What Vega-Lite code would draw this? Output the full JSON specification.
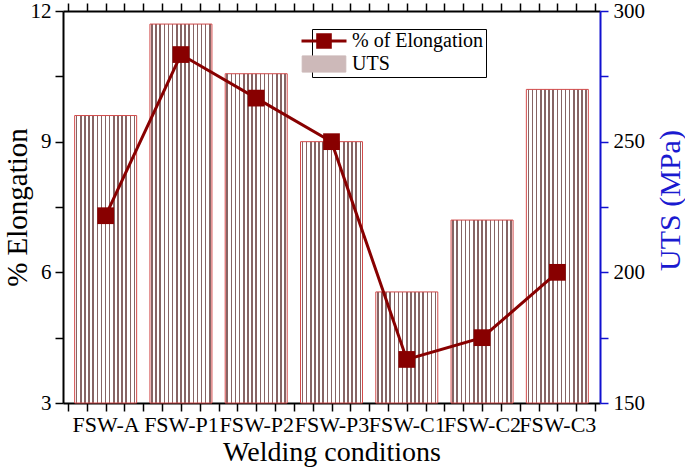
{
  "$schema": "https://vega.github.io/schema/vega-lite/v6.json",
  "width": 537,
  "height": 392,
  "autosize": "none",
  "padding": {"left": 63, "top": 11, "right": 85, "bottom": 70},
  "background": "white",
  "data": {
    "values": [
      {"cond": "FSW-A", "elong": 7.3, "uts": 260},
      {"cond": "FSW-P1", "elong": 11.0, "uts": 295},
      {"cond": "FSW-P2", "elong": 10.0, "uts": 276},
      {"cond": "FSW-P3", "elong": 9.0, "uts": 250},
      {"cond": "FSW-C1", "elong": 4.0, "uts": 192.5},
      {"cond": "FSW-C2", "elong": 4.5, "uts": 220},
      {"cond": "FSW-C3", "elong": 6.0, "uts": 270}
    ]
  },
  "transform": [{"window": [{"op": "row_number", "as": "idx"}]}],
  "layer": [
    {
      "mark": {
        "type": "bar",
        "width": 62,
        "stroke": "#d24a4a",
        "strokeWidth": 1,
        "fill": {
          "gradient": "linear", "x1": 0, "y1": 0, "x2": 1, "y2": 0,
          "stops": [
            {"offset": 0, "color": "#ffffff"},
            {"offset": 0.02, "color": "#ffffff"}, {"offset": 0.02, "color": "#866464"}, {"offset": 0.045, "color": "#866464"}, {"offset": 0.045, "color": "#ffffff"},
            {"offset": 0.0867, "color": "#ffffff"}, {"offset": 0.0867, "color": "#866464"}, {"offset": 0.1117, "color": "#866464"}, {"offset": 0.1117, "color": "#ffffff"},
            {"offset": 0.1533, "color": "#ffffff"}, {"offset": 0.1533, "color": "#866464"}, {"offset": 0.1783, "color": "#866464"}, {"offset": 0.1783, "color": "#ffffff"},
            {"offset": 0.22, "color": "#ffffff"}, {"offset": 0.22, "color": "#866464"}, {"offset": 0.245, "color": "#866464"}, {"offset": 0.245, "color": "#ffffff"},
            {"offset": 0.2867, "color": "#ffffff"}, {"offset": 0.2867, "color": "#866464"}, {"offset": 0.3117, "color": "#866464"}, {"offset": 0.3117, "color": "#ffffff"},
            {"offset": 0.3533, "color": "#ffffff"}, {"offset": 0.3533, "color": "#866464"}, {"offset": 0.3783, "color": "#866464"}, {"offset": 0.3783, "color": "#ffffff"},
            {"offset": 0.42, "color": "#ffffff"}, {"offset": 0.42, "color": "#866464"}, {"offset": 0.445, "color": "#866464"}, {"offset": 0.445, "color": "#ffffff"},
            {"offset": 0.4867, "color": "#ffffff"}, {"offset": 0.4867, "color": "#866464"}, {"offset": 0.5117, "color": "#866464"}, {"offset": 0.5117, "color": "#ffffff"},
            {"offset": 0.5533, "color": "#ffffff"}, {"offset": 0.5533, "color": "#866464"}, {"offset": 0.5783, "color": "#866464"}, {"offset": 0.5783, "color": "#ffffff"},
            {"offset": 0.62, "color": "#ffffff"}, {"offset": 0.62, "color": "#866464"}, {"offset": 0.645, "color": "#866464"}, {"offset": 0.645, "color": "#ffffff"},
            {"offset": 0.6867, "color": "#ffffff"}, {"offset": 0.6867, "color": "#866464"}, {"offset": 0.7117, "color": "#866464"}, {"offset": 0.7117, "color": "#ffffff"},
            {"offset": 0.7533, "color": "#ffffff"}, {"offset": 0.7533, "color": "#866464"}, {"offset": 0.7783, "color": "#866464"}, {"offset": 0.7783, "color": "#ffffff"},
            {"offset": 0.82, "color": "#ffffff"}, {"offset": 0.82, "color": "#866464"}, {"offset": 0.845, "color": "#866464"}, {"offset": 0.845, "color": "#ffffff"},
            {"offset": 0.8867, "color": "#ffffff"}, {"offset": 0.8867, "color": "#866464"}, {"offset": 0.9117, "color": "#866464"}, {"offset": 0.9117, "color": "#ffffff"},
            {"offset": 0.9533, "color": "#ffffff"}, {"offset": 0.9533, "color": "#866464"}, {"offset": 0.9783, "color": "#866464"}, {"offset": 0.9783, "color": "#ffffff"},
            {"offset": 1, "color": "#ffffff"}
          ]
        }
      },
      "encoding": {
        "x": {
          "field": "idx", "type": "quantitative",
          "scale": {"domain": [0.5, 7.5], "nice": false, "zero": false},
          "axis": {
            "orient": "top",
            "values": [0.5,0.75,1,1.25,1.5,1.75,2,2.25,2.5,2.75,3,3.25,3.5,3.75,4,4.25,4.5,4.75,5,5.25,5.5,5.75,6,6.25,6.5,6.75,7,7.25,7.5],
            "labels": false,
            "title": null,
            "tickSize": 8,
            "encode": {"ticks": {"update": {"y2": {"signal": "datum.value % 0.5 === 0 ? 8 : 5"}}}}
          }
        },
        "y": {
          "field": "uts", "type": "quantitative",
          "scale": {"domain": [150, 300], "nice": false, "zero": false},
          "axis": {
            "orient": "right",
            "values": [150, 175, 200, 225, 250, 275, 300],
            "labelExpr": "datum.value % 50 === 0 ? datum.label : ''",
            "tickSize": 8,
            "encode": {"ticks": {"update": {"x2": {"signal": "datum.value % 50 === 0 ? 8 : 5"}}}},
            "domainColor": "#1010d0",
            "tickColor": "#1010d0",
            "labelPadding": 5,
            "title": "UTS (MPa)",
            "titleColor": "#1a1ad0",
            "titleFontSize": 30,
            "titleAngle": 270,
            "titleX": 79,
            "titleY": 189,
            "titleAlign": "center",
            "titleBaseline": "alphabetic"
          }
        },
        "y2": {"datum": 150}
      }
    },
    {
      "mark": {
        "type": "line",
        "strokeWidth": 3,
        "point": {"shape": "square", "size": 280, "filled": true, "opacity": 1}
      },
      "encoding": {
        "x": {
          "field": "idx", "type": "quantitative",
          "scale": {"domain": [0.5, 7.5], "nice": false, "zero": false},
          "axis": {
            "orient": "bottom",
            "values": [0.5,0.75,1,1.25,1.5,1.75,2,2.25,2.5,2.75,3,3.25,3.5,3.75,4,4.25,4.5,4.75,5,5.25,5.5,5.75,6,6.25,6.5,6.75,7,7.25,7.5],
            "labelExpr": "datum.value === 1 ? 'FSW-A' : datum.value === 2 ? 'FSW-P1' : datum.value === 3 ? 'FSW-P2' : datum.value === 4 ? 'FSW-P3' : datum.value === 5 ? 'FSW-C1' : datum.value === 6 ? 'FSW-C2' : datum.value === 7 ? 'FSW-C3' : ''",
            "labelOverlap": false,
            "labelBound": false,
            "labelFlush": false,
            "labelFontSize": 22,
            "labelPadding": 3,
            "tickSize": 8,
            "encode": {"ticks": {"update": {"y2": {"signal": "datum.value % 0.5 === 0 ? 8 : 5"}}}},
            "title": "Welding conditions",
            "titleFontSize": 28,
            "titleY": 57,
            "titleBaseline": "alphabetic"
          }
        },
        "y": {
          "field": "elong", "type": "quantitative",
          "scale": {"domain": [3, 12], "nice": false, "zero": false},
          "axis": {
            "orient": "left",
            "values": [3, 4.5, 6, 7.5, 9, 10.5, 12],
            "labelExpr": "datum.value % 3 === 0 ? datum.label : ''",
            "tickSize": 8,
            "encode": {"ticks": {"update": {"x2": {"signal": "datum.value % 3 === 0 ? -8 : -5"}}}},
            "labelPadding": 4,
            "title": "% Elongation",
            "titleFontSize": 29,
            "titleAngle": 270,
            "titleX": -37,
            "titleY": 196,
            "titleAlign": "center",
            "titleBaseline": "alphabetic"
          }
        },
        "color": {
          "datum": "% of Elongation",
          "type": "nominal",
          "scale": {"domain": ["% of Elongation", "UTS"], "range": ["#880000", "#cdb9b9"]},
          "legend": {
            "orient": "none",
            "legendX": 249,
            "legendY": 18,
            "title": null,
            "labelFontSize": 20,
            "labelColor": "black",
            "labelOffset": 18,
            "symbolSize": 2025,
            "rowPadding": -3,
            "padding": 2,
            "strokeColor": "black",
            "fillColor": "white",
            "encode": {
              "symbols": {
                "update": {
                  "shape": {"signal": "datum.value === 'UTS' ? 'M-0.97,-0.36H0.97V0.36H-0.97Z' : 'M-1,0H1M-0.28,-0.28H0.28V0.28H-0.28Z'"},
                  "stroke": {"signal": "datum.value === 'UTS' ? '#d24a4a' : '#880000'"},
                  "strokeWidth": {"signal": "datum.value === 'UTS' ? 1 : 3"},
                  "opacity": {"value": 1},
                  "fillOpacity": {"value": 1}
                }
              }
            }
          }
        }
      }
    }
  ],
  "resolve": {"scale": {"y": "independent"}, "axis": {"x": "independent", "y": "independent"}},
  "config": {
    "view": {"stroke": null},
    "font": "Liberation Serif",
    "axis": {
      "grid": false,
      "domainWidth": 2,
      "domainColor": "black",
      "tickWidth": 1.5,
      "tickColor": "black",
      "labelFont": "Liberation Serif",
      "labelFontSize": 21,
      "labelColor": "black",
      "titleFont": "Liberation Serif",
      "titleFontWeight": "normal",
      "titleColor": "black"
    },
    "legend": {"labelFont": "Liberation Serif"}
  }
}
